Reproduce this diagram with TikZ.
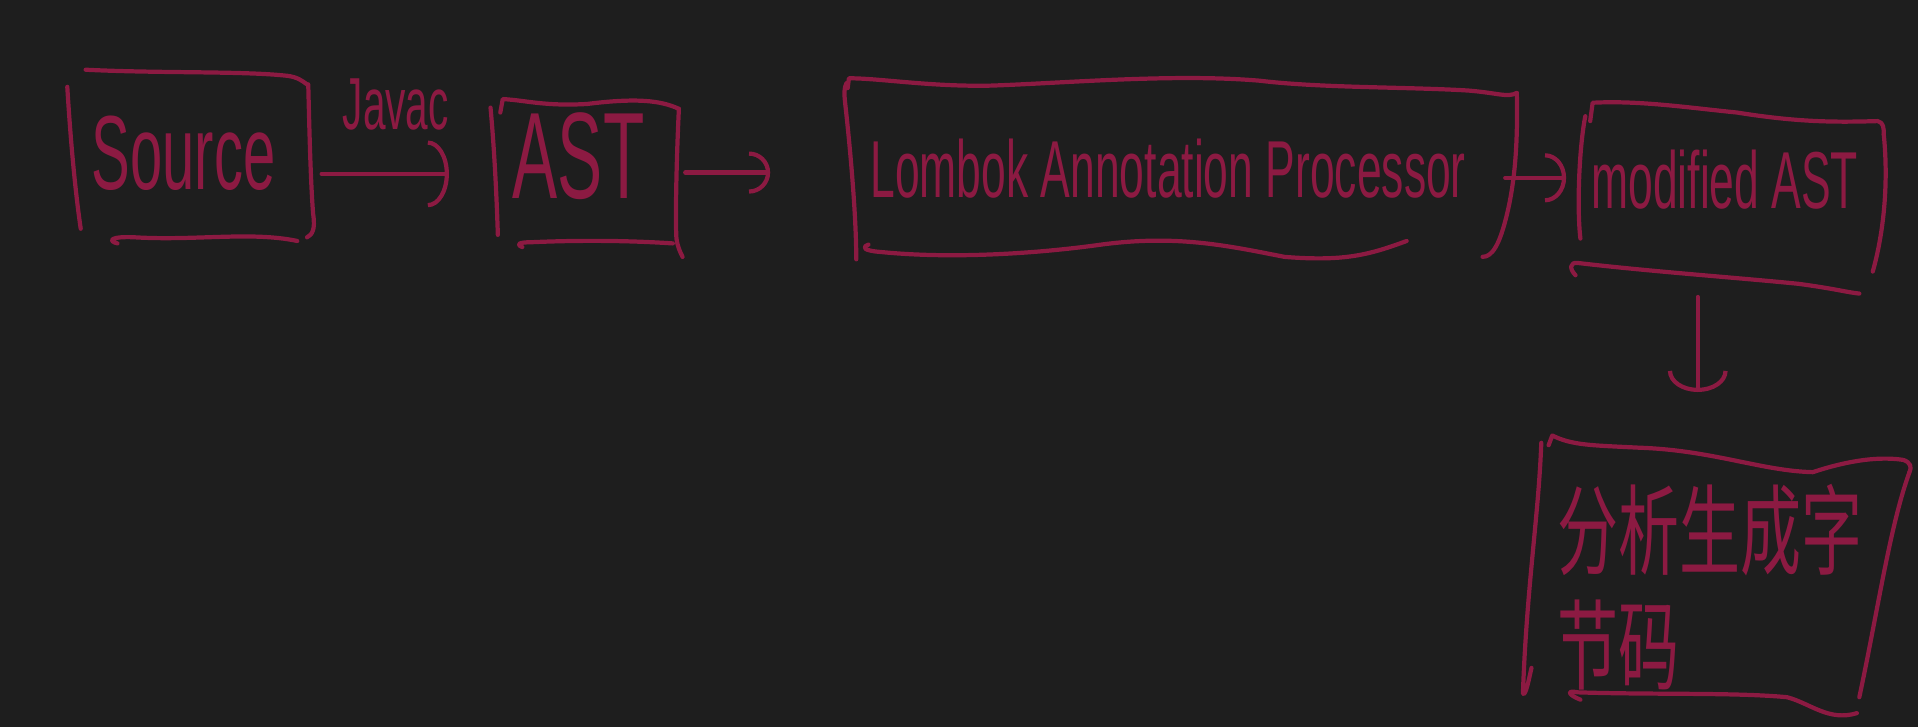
\documentclass[tikz,border=0pt]{standalone}
\usepackage{fontspec}
\setmainfont{Liberation Sans}[FakeStretch=0.55]
\newfontfamily\cjkfont{Noto Sans CJK SC}[FakeStretch=0.62]
\usetikzlibrary{arrows.meta,calc}
\definecolor{bgdark}{HTML}{1E1E1E}
\definecolor{inkred}{HTML}{8C1A42}
\tikzset{
ink/.style={draw=inkred, line width=1.2pt, line cap=round, line join=round},
flow/.style={ink, -{Arc Barb[length=6pt,width=#1]}},
flow/.default=13pt,
stage/.style={text=inkred, inner sep=0pt},
}

\begin{document}
\begin{tikzpicture}[x=0.01223cm,y=-0.01223cm]
    \fill[bgdark] (0,0) rectangle (1568,594);
    \useasboundingbox (0,0) rectangle (1568,594);

    % stages
    \node[stage, minimum width=2.45cm, minimum height=1.6cm,
        font=\fontsize{30}{33}\selectfont] (src) at (150,125) {Source};
    \node[stage, minimum width=1.86cm, minimum height=1.4cm,
        font=\fontsize{35}{38}\selectfont] (ast) at (473,128) {AST};
    \node[stage, minimum width=6.67cm, minimum height=1.7cm,
        font=\fontsize{23}{26}\selectfont] (lombok) at (955,138) {Lombok Annotation Processor};
    \node[stage, minimum width=3cm, minimum height=1.65cm,
        font=\fontsize{23}{26}\selectfont] (modast) at (1410,147) {modified AST};
    \node[stage, align=left, minimum width=3.67cm, minimum height=2.57cm,
        font=\cjkfont\fontsize{28}{33}\selectfont] (bytecode) at (1398,480) {分析生成字\\节码};

    % boxes
    \begin{scope}
        \draw[ink] (55,71) .. controls (58,120) and (62,160) .. (66,187);
        \draw[ink] (70,57) .. controls (130,60) and (200,58) .. (235,62)
            .. controls (243,63) and (247,66) .. (251,69);
        \draw[ink] (252,69) .. controls (253,110) and (254,150) .. (256,175)
            .. controls (258,188) and (255,192) .. (251,194);
        \draw[ink] (96,199) .. controls (88,197) and (90,193) .. (110,194)
            .. controls (160,197) and (205,189) .. (243,197);
    \end{scope}

    \begin{scope}
        \draw[ink] (401,88) .. controls (404,120) and (406,160) .. (407,192);
        \draw[ink] (409,92) -- (411,81) .. controls (430,82) and (445,87) .. (480,85)
            .. controls (520,80) and (540,82) .. (555,89);
        \draw[ink] (555,89) .. controls (553,130) and (552,180) .. (553,195)
            .. controls (554,202) and (556,206) .. (558,210);
        \draw[ink] (427,202) .. controls (422,200) and (423,198) .. (435,198)
            .. controls (480,196) and (520,197) .. (550,199);
    \end{scope}

    \begin{scope}
        \draw[ink] (692,68) .. controls (690,72) and (690,76) .. (691,85)
            .. controls (696,130) and (700,180) .. (700,212);
        \draw[ink] (693,72) -- (694,64) .. controls (720,64) and (760,71) .. (810,70)
            .. controls (870,68) and (960,60) .. (1030,66)
            .. controls (1080,72) and (1150,71) .. (1200,74)
            .. controls (1225,76) and (1232,80) .. (1240,76);
        \draw[ink] (1240,76) .. controls (1241,120) and (1238,150) .. (1232,175)
            .. controls (1226,200) and (1220,210) .. (1212,210);
        \draw[ink] (710,200) .. controls (704,202) and (706,205) .. (720,206)
            .. controls (780,212) and (850,207) .. (900,200)
            .. controls (960,192) and (1000,200) .. (1050,210)
            .. controls (1100,214) and (1120,208) .. (1150,197);
    \end{scope}

    \begin{scope}
        \draw[ink] (1296,95) .. controls (1291,120) and (1289,170) .. (1292,195);
        \draw[ink] (1300,99) -- (1302,84) .. controls (1340,82) and (1380,88) .. (1420,92)
            .. controls (1470,100) and (1500,100) .. (1535,99)
            .. controls (1540,100) and (1540,105) .. (1540,110);
        \draw[ink] (1540,110) .. controls (1544,150) and (1540,190) .. (1531,222);
        \draw[ink] (1288,225) .. controls (1283,220) and (1283,214) .. (1290,215)
            .. controls (1350,222) and (1420,227) .. (1470,232)
            .. controls (1500,236) and (1510,239) .. (1520,240);
    \end{scope}

    \begin{scope}
        \draw[ink] (1252,546) .. controls (1250,555) and (1247,570) .. (1245,567)
            .. controls (1248,480) and (1258,420) .. (1260,362);
        \draw[ink] (1266,364) -- (1269,356) .. controls (1285,364) and (1300,364) .. (1340,366)
            .. controls (1400,368) and (1440,385) .. (1482,386)
            .. controls (1500,380) and (1530,372) .. (1556,376)
            .. controls (1562,378) and (1563,382) .. (1561,386);
        \draw[ink] (1561,386) .. controls (1545,430) and (1535,500) .. (1520,570);
        \draw[ink] (1292,572) .. controls (1282,568) and (1280,564) .. (1290,566)
            .. controls (1350,568) and (1420,566) .. (1461,570)
            .. controls (1480,575) and (1495,590) .. (1518,583);
    \end{scope}

    % connectors
    \draw[flow=19pt, shorten <=0.15cm, shorten >=0.36cm]
        ([yshift=-0.21cm]src.east) -- ([yshift=-0.21cm]src.east -| ast.west)
        node[stage, midway, above=0.42cm, font=\fontsize{21}{24}\selectfont] (javac) {Javac};
    \draw[flow=12pt, shorten <=0.13cm, shorten >=0.64cm]
        ([yshift=-0.16cm]ast.east) -- ([yshift=-0.16cm]ast.east -| lombok.west);
    \draw[flow=14pt, shorten <=0.03cm, shorten >=0.08cm]
        ([yshift=-0.09cm]lombok.east) -- ([yshift=-0.09cm]lombok.east -| modast.west);
    \draw[flow=17pt, shorten <=0.34cm, shorten >=0.66cm]
        ([xshift=-0.27cm]modast.south) -- ([xshift=-0.27cm]modast.south |- bytecode.north);
\end{tikzpicture}
\end{document}
